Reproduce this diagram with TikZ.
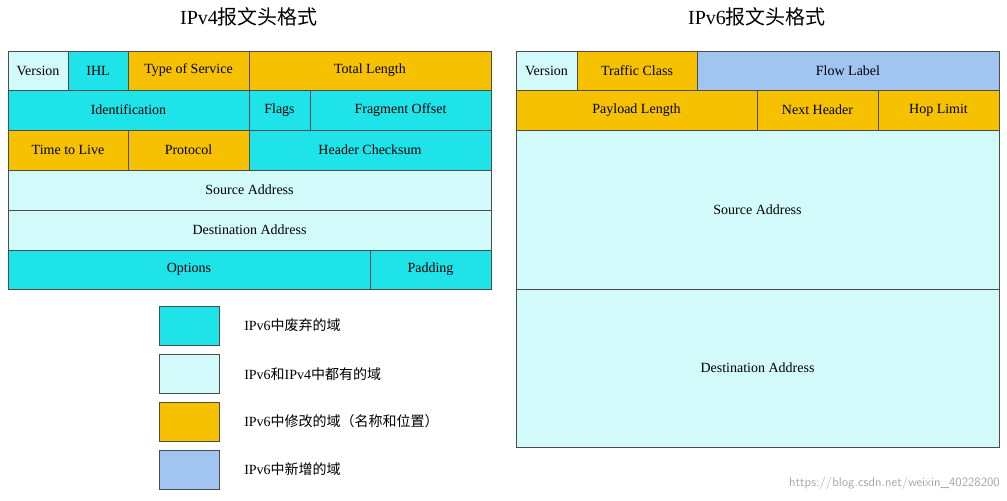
\documentclass[tikz,border=0pt]{standalone}
\usepackage{fontspec}
\setmainfont{Liberation Serif}
\newfontfamily\cjk{Noto Sans CJK SC}
\definecolor{cy}{HTML}{1EE3E8}
\definecolor{lc}{HTML}{D2FAFA}
\definecolor{og}{HTML}{F5C100}
\definecolor{bl}{HTML}{9FC5F0}
\tikzset{fld/.style={draw=black!70,line width=0.5pt},
 lab/.style={font=\fontsize{10.5}{12}\selectfont,inner sep=0pt},
 ttl/.style={font=\fontsize{15}{18}\selectfont,inner sep=0pt}}
\newcommand\fld[6]{\filldraw[fld,fill=#5] (#1,#2) rectangle (#3,#4); \node[lab] (#6) at ({(#1+#3)/2},{(#2+#4)/2}) {};}
\begin{document}
\begin{tikzpicture}[x=0.75pt,y=-0.75pt]
\useasboundingbox (0,0) rectangle (1007,500);
\def\F#1#2#3#4#5#6{\filldraw[fld,fill=#5] (#1,#2) rectangle (#3,#4); \node[lab] at ({(#1+#3)/2},{(#2+#4)/2}) {#6};}
\node[ttl] (t4) at (249,17) {IPv4{\cjk 报文头格式}};
\node[ttl] (t6) at (757,17) {IPv6{\cjk 报文头格式}};
% IPv4
\F{8}{51}{68}{90}{lc}{Version}
\F{68}{51}{128}{90}{cy}{IHL}
\F{128}{51}{249}{90}{og}{Type of Service}
\F{249}{51}{491}{90}{og}{Total Length}
\F{8}{90}{249}{130}{cy}{Identification}
\F{249}{90}{310}{130}{cy}{Flags}
\F{310}{90}{491}{130}{cy}{Fragment Offset}
\F{8}{130}{128}{170}{og}{Time to Live}
\F{128}{130}{249}{170}{og}{Protocol}
\F{249}{130}{491}{170}{cy}{Header Checksum}
\F{8}{170}{491}{210}{lc}{Source Address}
\F{8}{210}{491}{250}{lc}{Destination Address}
\F{8}{250}{370}{289}{cy}{Options}
\F{370}{250}{491}{289}{cy}{Padding}
% IPv6
\F{516}{51}{577}{90}{lc}{Version}
\F{577}{51}{697}{90}{og}{Traffic Class}
\F{697}{51}{999}{90}{bl}{Flow Label}
\F{516}{90}{757}{130}{og}{Payload Length}
\F{757}{90}{878}{130}{og}{Next Header}
\F{878}{90}{999}{130}{og}{Hop Limit}
\F{516}{130}{999}{289}{lc}{Source Address}
\F{516}{289}{999}{447}{lc}{Destination Address}
% legend
\filldraw[fld,fill=cy] (159,306) rectangle (219,345);
\filldraw[fld,fill=lc] (159,354) rectangle (219,393);
\filldraw[fld,fill=og] (159,402) rectangle (219,441);
\filldraw[fld,fill=bl] (159,450) rectangle (219,489);
\node[lab,anchor=west] (l1) at (244,325) {IPv6{\cjk 中废弃的域}};
\node[lab,anchor=west] (l2) at (244,374) {IPv6{\cjk 和}IPv4{\cjk 中都有的域}};
\node[lab,anchor=west] (l3) at (244,421) {IPv6{\cjk 中修改的域（名称和位置）}};
\node[lab,anchor=west] (l4) at (244,469) {IPv6{\cjk 中新增的域}};
\node[anchor=east,inner sep=0pt,text=black!35,font=\sffamily\fontsize{9.5}{11}\selectfont] (wm) at (1000,483) {https://blog.csdn.net/weixin\_40228200};
\end{tikzpicture}
\end{document}
